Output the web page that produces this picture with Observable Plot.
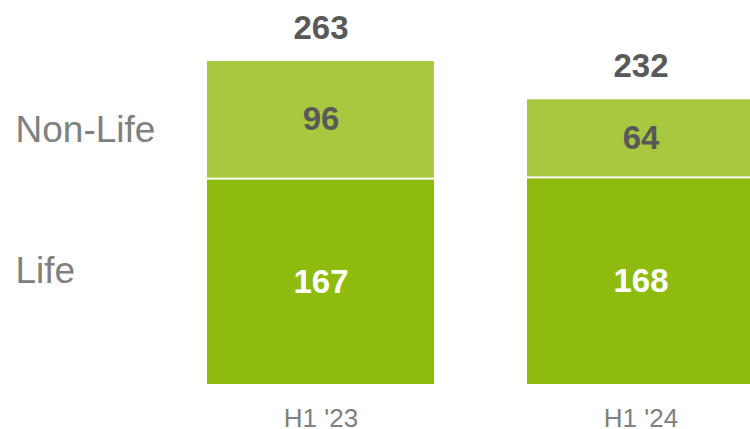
<!DOCTYPE html>
<html>
<head>
<meta charset="utf-8">
<script src="https://cdn.jsdelivr.net/npm/d3@7"></script>
<script src="https://cdn.jsdelivr.net/npm/@observablehq/plot@0.6"></script>
<style>
  html, body { margin: 0; padding: 0; background: #fff; overflow: hidden; }
  #chart svg { display: block; }
</style>
</head>
<body>
<div id="chart"></div>
<script>
const periods = ["H1 '23", "H1 '24"];
const series = ["Life", "Non-Life"];
const lifeValues = [167, 168];
const nonLifeValues = [96, 64];

const barColors = {"Life": "#8fbb0e", "Non-Life": "#a8c83f"};
const labelColors = {"Life": "#ffffff", "Non-Life": "#595959"};

// build stacked table
const values = {"Life": lifeValues, "Non-Life": nonLifeValues};
const rows = [];
periods.forEach((p, i) => {
  let base = 0;
  series.forEach(s => {
    const v = values[s][i];
    rows.push({period: p, series: s, value: v, y1: base, y2: base + v, mid: base + v / 2});
    base += v;
  });
});
const totals = periods.map((p, i) => ({period: p, total: lifeValues[i] + nonLifeValues[i]}));
const seriesLabelY = series.map(s => ({series: s, y: d3.mean(rows.filter(r => r.series === s), r => r.mid)}));

const font = "'Liberation Sans', Arial, Helvetica, sans-serif";

const chart = Plot.plot({
  width: 750,
  height: 429,
  marginLeft: 207,
  marginRight: -5,
  marginTop: 60,
  marginBottom: 44,
  style: {fontFamily: font, background: "#fff", overflow: "hidden"},
  x: {domain: periods, paddingInner: 0.29, paddingOuter: 0, axis: null},
  y: {domain: [0, d3.max(totals, d => d.total)], axis: null},
  color: {type: "identity"},
  marks: [
    Plot.rectY(rows, {x: "period", y1: "y1", y2: "y2", fill: d => barColors[d.series], insetTop: 1, insetBottom: 1}),
    Plot.text(rows, {x: "period", y: "mid", text: d => String(d.value), fill: d => labelColors[d.series], fontSize: 33, fontWeight: "bold"}),
    Plot.text(totals, {x: "period", y: "total", text: d => String(d.total), fill: "#595959", fontSize: 33, fontWeight: "bold", dy: -32}),
    Plot.axisX({tickSize: 0, tickPadding: 23, fontSize: 26, fill: "#808080", fontFamily: font, label: null}),
    Plot.text(seriesLabelY.filter(d => d.series === "Non-Life"), {frameAnchor: "left", y: "y", text: "series", textAnchor: "start", dx: -192, dy: 1, fontSize: 37, fill: "#808080"}),
    Plot.text(seriesLabelY.filter(d => d.series === "Life"), {frameAnchor: "left", y: "y", text: "series", textAnchor: "start", dx: -192, dy: -11, fontSize: 37, fill: "#808080"})
  ]
});
document.getElementById("chart").appendChild(chart);
</script>
</body>
</html>
